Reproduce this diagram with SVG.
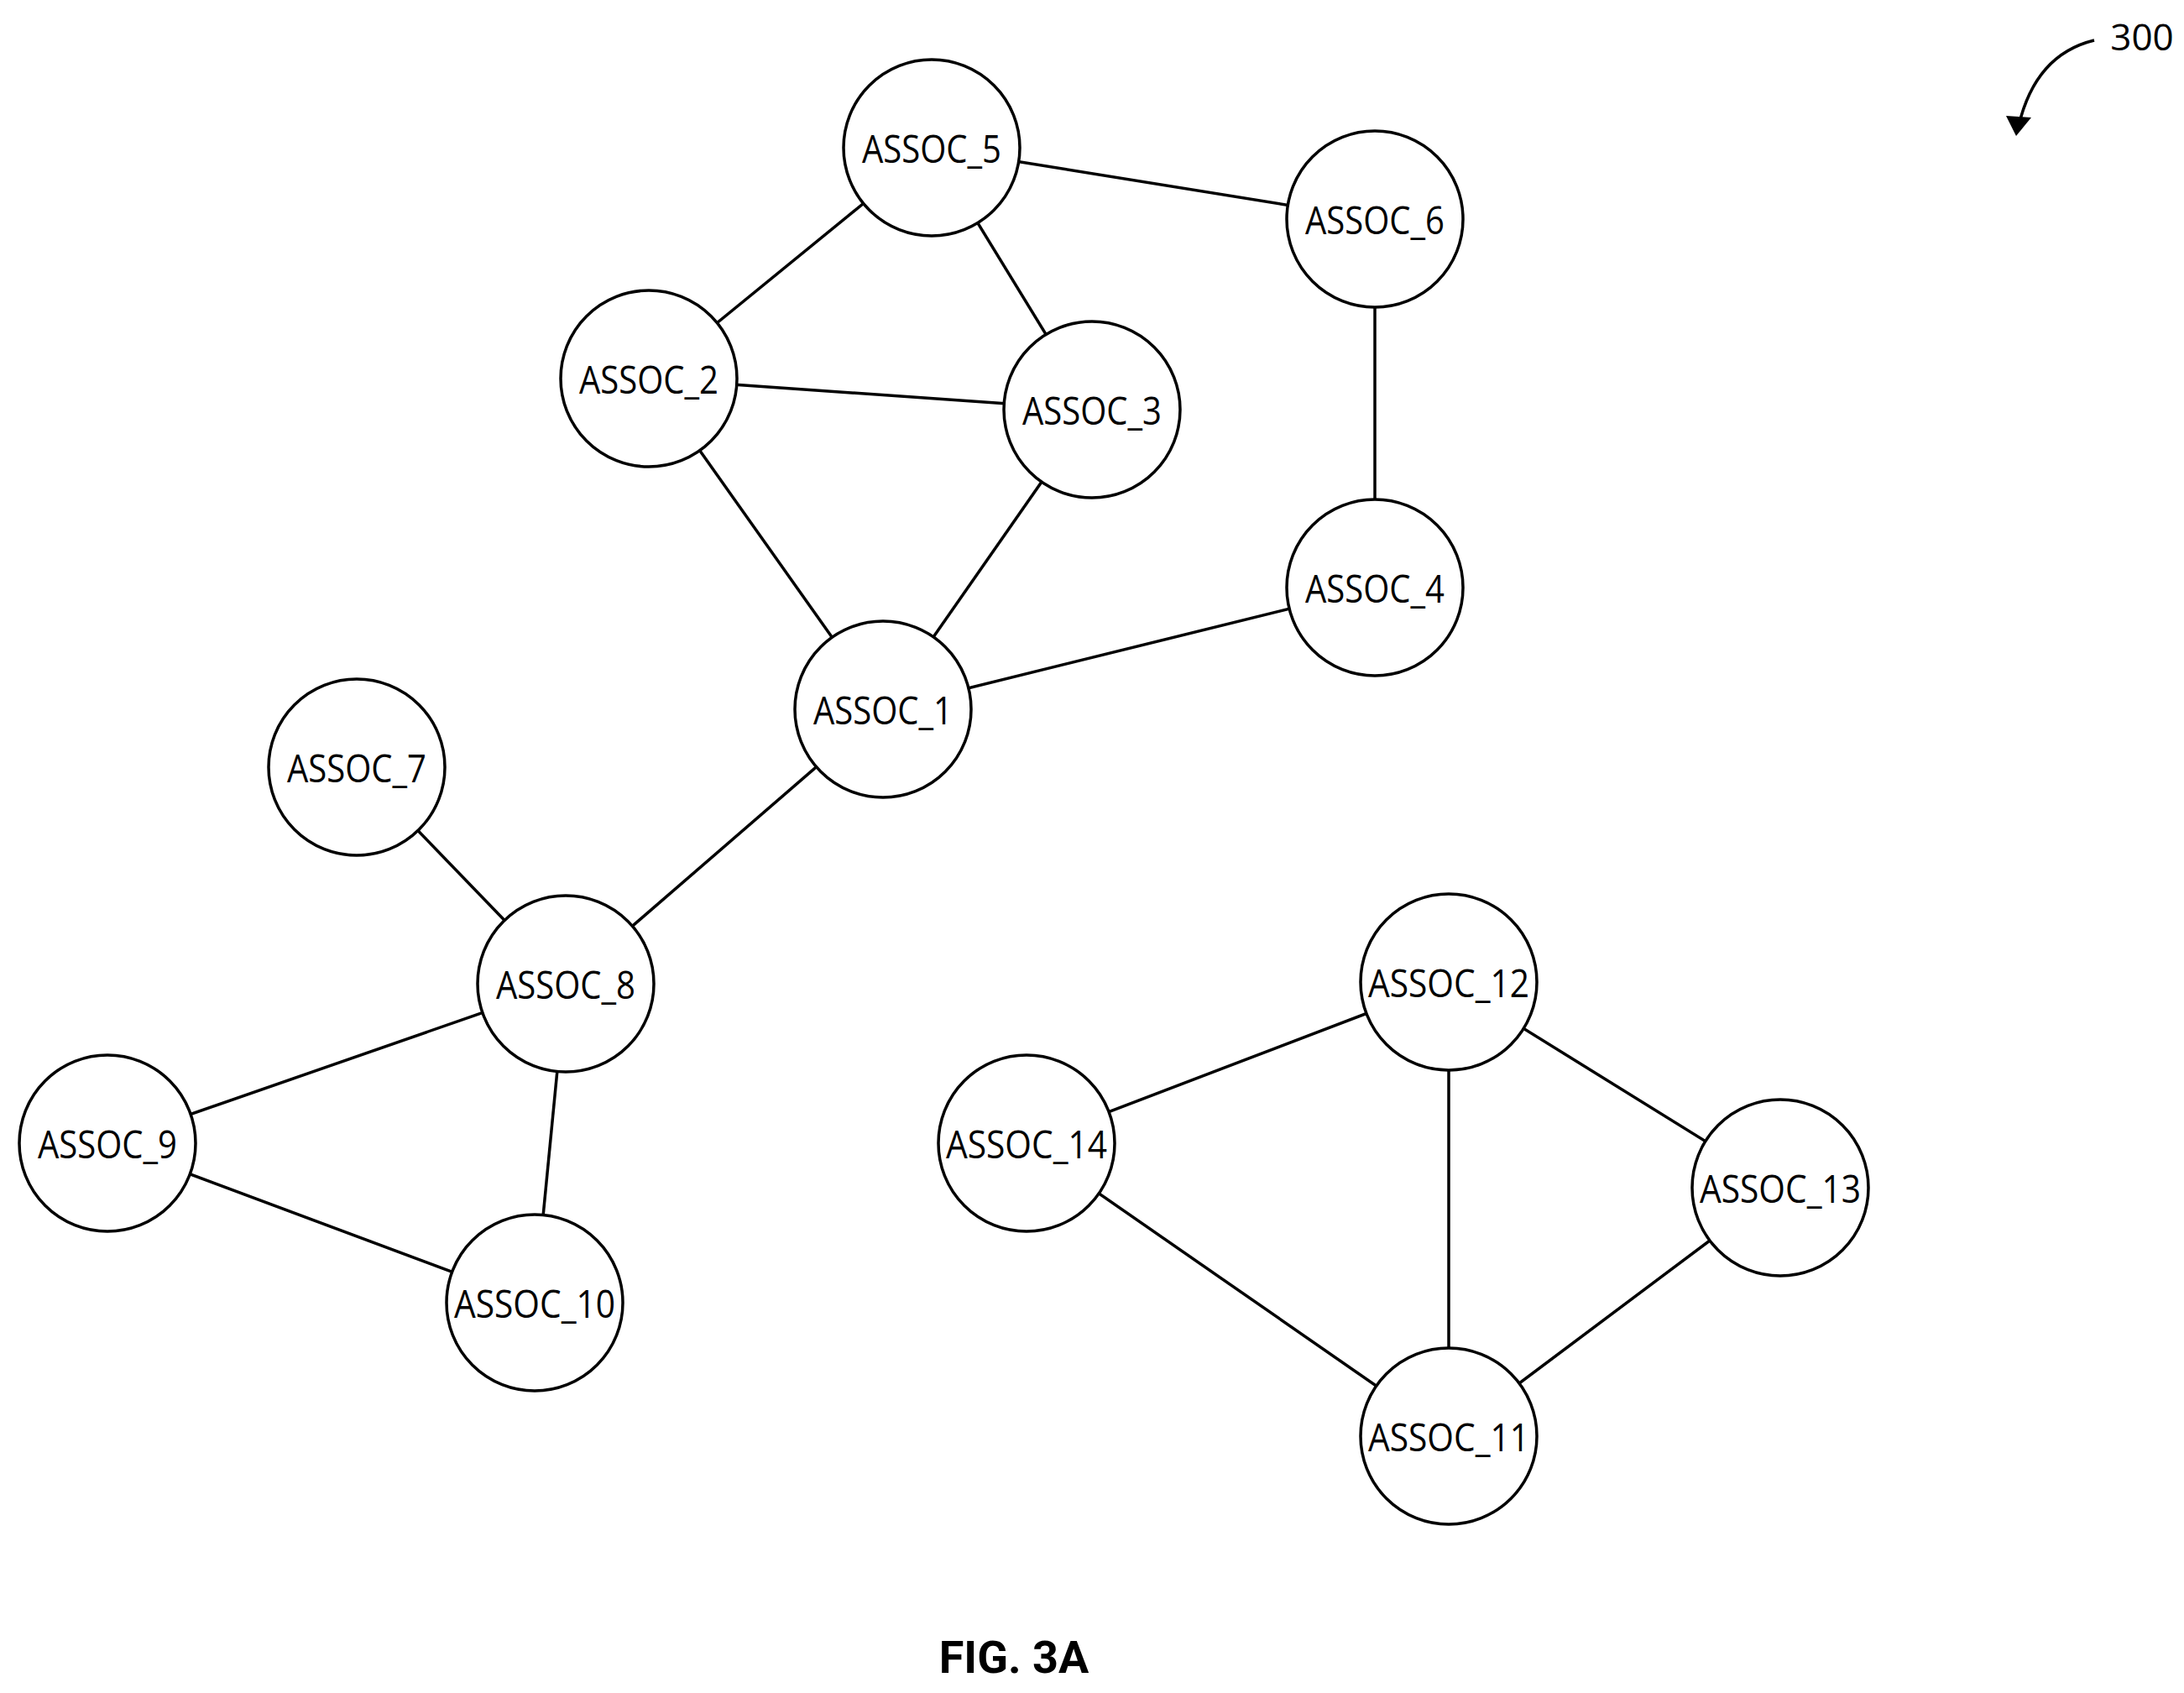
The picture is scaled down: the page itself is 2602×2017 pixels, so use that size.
<svg xmlns="http://www.w3.org/2000/svg" width="2602" height="2017" viewBox="0 0 2602 2017">
<style>
.n circle{fill:#fff;stroke:#000;stroke-width:3.5}
.n text{font-family:"Open Sans","Liberation Sans",sans-serif;font-size:46px;text-anchor:middle;dominant-baseline:central}
#edges line{stroke:#000;stroke-width:3.5}
</style>
<defs><marker id="ah" markerWidth="10" markerHeight="10" refX="5" refY="5" orient="auto" markerUnits="userSpaceOnUse" viewBox="0 0 10 10"><path d="M0,0 L10,5 L0,10 z"/></marker></defs>
<rect width="2602" height="2017" fill="#fff"/>
<g id="edges">
<line x1="1110" y1="176" x2="1638" y2="261"/>
<line x1="1110" y1="176" x2="773" y2="451"/>
<line x1="1110" y1="176" x2="1301" y2="488"/>
<line x1="773" y1="451" x2="1301" y2="488"/>
<line x1="773" y1="451" x2="1052" y2="845"/>
<line x1="1301" y1="488" x2="1052" y2="845"/>
<line x1="1638" y1="261" x2="1638" y2="700"/>
<line x1="1638" y1="700" x2="1052" y2="845"/>
<line x1="1052" y1="845" x2="674" y2="1172"/>
<line x1="425" y1="914" x2="674" y2="1172"/>
<line x1="674" y1="1172" x2="128" y2="1362"/>
<line x1="674" y1="1172" x2="637" y2="1552"/>
<line x1="128" y1="1362" x2="637" y2="1552"/>
<line x1="1726" y1="1170" x2="1223" y2="1362"/>
<line x1="1726" y1="1170" x2="1726" y2="1711"/>
<line x1="1726" y1="1170" x2="2121" y2="1415"/>
<line x1="1223" y1="1362" x2="1726" y2="1711"/>
<line x1="2121" y1="1415" x2="1726" y2="1711"/>
</g>
<g id="n5" class="n"><circle cx="1110" cy="176" r="105"/><text x="1110" y="176" textLength="166" lengthAdjust="spacingAndGlyphs">ASSOC_5</text></g>
<g id="n6" class="n"><circle cx="1638" cy="261" r="105"/><text x="1638" y="261" textLength="166" lengthAdjust="spacingAndGlyphs">ASSOC_6</text></g>
<g id="n2" class="n"><circle cx="773" cy="451" r="105"/><text x="773" y="451" textLength="166" lengthAdjust="spacingAndGlyphs">ASSOC_2</text></g>
<g id="n3" class="n"><circle cx="1301" cy="488" r="105"/><text x="1301" y="488" textLength="166" lengthAdjust="spacingAndGlyphs">ASSOC_3</text></g>
<g id="n4" class="n"><circle cx="1638" cy="700" r="105"/><text x="1638" y="700" textLength="166" lengthAdjust="spacingAndGlyphs">ASSOC_4</text></g>
<g id="n1" class="n"><circle cx="1052" cy="845" r="105"/><text x="1052" y="845" textLength="166" lengthAdjust="spacingAndGlyphs">ASSOC_1</text></g>
<g id="n7" class="n"><circle cx="425" cy="914" r="105"/><text x="425" y="914" textLength="166" lengthAdjust="spacingAndGlyphs">ASSOC_7</text></g>
<g id="n8" class="n"><circle cx="674" cy="1172" r="105"/><text x="674" y="1172" textLength="166" lengthAdjust="spacingAndGlyphs">ASSOC_8</text></g>
<g id="n9" class="n"><circle cx="128" cy="1362" r="105"/><text x="128" y="1362" textLength="166" lengthAdjust="spacingAndGlyphs">ASSOC_9</text></g>
<g id="n10" class="n"><circle cx="637" cy="1552" r="105"/><text x="637" y="1552" textLength="192" lengthAdjust="spacingAndGlyphs">ASSOC_10</text></g>
<g id="n12" class="n"><circle cx="1726" cy="1170" r="105"/><text x="1726" y="1170" textLength="192" lengthAdjust="spacingAndGlyphs">ASSOC_12</text></g>
<g id="n14" class="n"><circle cx="1223" cy="1362" r="105"/><text x="1223" y="1362" textLength="192" lengthAdjust="spacingAndGlyphs">ASSOC_14</text></g>
<g id="n13" class="n"><circle cx="2121" cy="1415" r="105"/><text x="2121" y="1415" textLength="192" lengthAdjust="spacingAndGlyphs">ASSOC_13</text></g>
<g id="n11" class="n"><circle cx="1726" cy="1711" r="105"/><text x="1726" y="1711" textLength="192" lengthAdjust="spacingAndGlyphs">ASSOC_11</text></g>
<g id="ref">
<text x="2552" y="60" font-family="Open Sans,Liberation Sans,sans-serif" font-size="44" text-anchor="middle">300</text>
<path d="M2495,48 Q2425,65 2405,150" fill="none" stroke="#000" stroke-width="3.5" marker-end="url(#ah)"/>
<path d="M2390,138 L2420,140 L2402,162 z"/>
</g>
<text x="1208" y="1993" font-family="Roboto,Liberation Sans,sans-serif" font-weight="bold" font-size="54" text-anchor="middle">FIG. 3A</text>
</svg>
